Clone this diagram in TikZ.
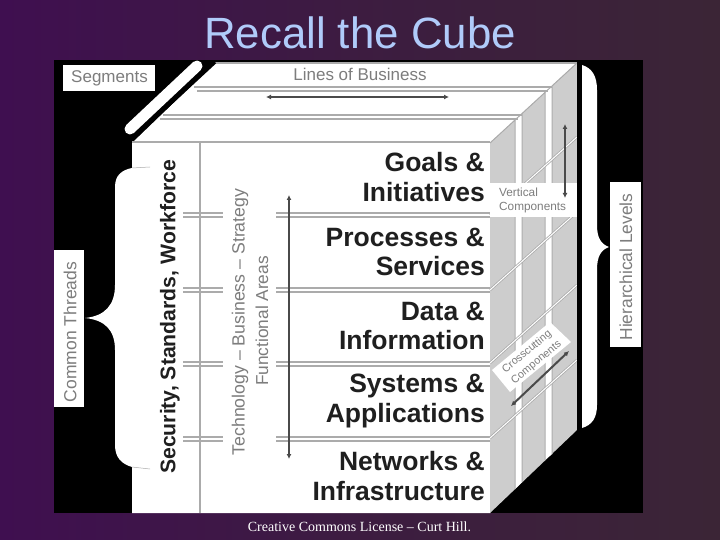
\documentclass[tikz,border=0pt]{standalone}
\usepackage{fontspec}
\setmainfont{Liberation Sans}
\newfontfamily\serifft{Liberation Serif}
\usetikzlibrary{arrows.meta}
\definecolor{bgl}{HTML}{3F0F50}
\definecolor{bgr}{HTML}{3B2536}
\definecolor{titleblue}{HTML}{B0CBFA}
\definecolor{sidegray}{HTML}{CDCDCD}
\definecolor{linegray}{HTML}{ABABAB}
\definecolor{txtgray}{HTML}{7D7D7D}
\definecolor{arrowgray}{HTML}{4A4A4A}
\tikzset{
  layer/.style={align=right,anchor=east,font=\bfseries\fontsize{26.5}{29.5}\selectfont,text=black!88,inner sep=0pt},
  graylabel/.style={text=txtgray,inner sep=0pt},
  doubleline/.style={draw=linegray,line width=1.4pt},
  diag/.style={draw=linegray,line width=2.6pt},
  diagin/.style={draw=white,line width=1pt},
  axis/.style={draw=arrowgray,line width=1.5pt,{Latex[length=5pt,width=5pt]}-{Latex[length=5pt,width=5pt]}},
}
\begin{document}
\begin{tikzpicture}[x=1pt,y=-1pt]
\useasboundingbox (0,0) rectangle (720,540);
\shade[left color=bgl,right color=bgr,middle color=bgr!60!bgl] (0,0) rectangle (720,540);
\fill[black] (54,60) rectangle (643,513);
% cube faces
\fill[white] (132,143) -- (215,63) -- (577,63) -- (490,143) -- (490,513) -- (132,513) -- cycle;
\fill[sidegray] (490,143) -- (577,63) -- (577,430) -- (490,513) -- cycle;
\fill[white] (515,120) -- (522,114) -- (522,482) -- (515,489) -- cycle;
\fill[white] (545,92) -- (552,86) -- (552,454) -- (545,460) -- cycle;
\draw[draw=linegray,line width=1pt] (490,143) -- (577,63) (515,120) -- (515,489) (522,114) -- (522,482) (545,92) -- (545,460) (552,86) -- (552,454);
\draw[draw=linegray,line width=1.5pt] (215,63) -- (577,63);
% top face lines
\draw[doubleline] (194,87) -- (552,87) (197,91) -- (548,91) (163,115) -- (522,115) (160,119) -- (518,119);
\draw[draw=linegray,line width=2pt] (132,142) -- (490,142);
\draw[draw=linegray,line width=1.5pt] (200,143) -- (200,513);
% segment band
\draw[black,line width=3.5pt] (134,137) -- (215,62);
\draw[white,line width=11pt,line cap=round] (130,129) -- (197,66);
% layer separators
\foreach \y in {213,288,362,437}{
  \draw[doubleline] (183,\y) -- (223,\y) (183,\y+4) -- (223,\y+4) (276,\y) -- (490,\y) (276,\y+4) -- (490,\y+4);
}
% side diagonals
\foreach \y in {215,290,363,438}{
  \draw[diag] (490,\y) -- (577,\y-78);
  \draw[diagin] (490,\y) -- (577,\y-78);
}
% left brace
\fill[white] (132,168) .. controls (122,170) and (115,175) .. (115,187) -- (115,285) .. controls (115,305) and (105,316) .. (85,318) .. controls (105,320) and (115,330) .. (115,350) -- (115,445) .. controls (115,458) and (122,464) .. (132,467) -- (140,467) -- (140,168) -- cycle;
\draw[draw=linegray,line width=.5pt] (132,168) -- (150,167) (132,467) -- (150,469);
% right brace
\fill[black] (577,60) rectangle (582,431);
\fill[white] (582,65) .. controls (592,68) and (597,76) .. (597,90) -- (597,225) .. controls (597,238) and (601,244) .. (609,247) .. controls (601,250) and (597,256) .. (597,270) -- (597,405) .. controls (597,418) and (592,425) .. (582,428) -- cycle;
% labels
\node[fill=white,minimum width=92pt,minimum height=26pt,inner sep=0pt] (segbox) at (109,78) {};
\node[graylabel,font=\fontsize{17}{19}\selectfont] (seg) at (109.5,78) {Segments};
\node[graylabel,font=\fontsize{17}{19}\selectfont] (lob) at (360,74) {Lines of Business};
\node[fill=white,minimum width=30pt,minimum height=157pt,inner sep=0pt] (ctbox) at (69,328.5) {};
\node[graylabel,rotate=90,font=\fontsize{17.5}{19}\selectfont] (ct) at (70,332) {Common Threads};
\node[fill=white,minimum width=31pt,minimum height=165pt,inner sep=0pt] (hlbox) at (625.5,264.5) {};
\node[graylabel,rotate=90,font=\fontsize{17.4}{19}\selectfont] (hl) at (626,267) {Hierarchical Levels};
\node[inner sep=0pt,rotate=90,text=black!88,font=\bfseries\fontsize{21.2}{23}\selectfont] (ssw) at (170,317) {Security, Standards, Workforce};
\node[graylabel,rotate=90,font=\fontsize{17.7}{19}\selectfont] (tbs) at (240,322) {Technology – Business – Strategy};
\node[graylabel,rotate=90,font=\fontsize{17.3}{19}\selectfont] (fa) at (262,321) {Functional Areas};
\node[layer] (l1) at (485,177) {Goals \&\\Initiatives};
\node[layer] (l2) at (485,252) {Processes \&\\Services};
\node[layer] (l3) at (485,326) {Data \&\\Information};
\node[layer] (l4) at (485,401) {Systems \&\\Applications};
\node[layer] (l5) at (485,476) {Networks \&\\Infrastructure};
% vertical components
\node[fill=white,minimum width=87pt,minimum height=34pt,inner sep=0pt] (vcbox) at (533.5,200) {};
\node[graylabel,align=left,anchor=west,font=\fontsize{11.8}{14}\selectfont] (vc) at (499,200) {Vertical\\Components};
% crosscutting components
\fill[white] (550,322) -- (571,342) -- (510,392) -- (492,370) -- cycle;
\node[graylabel,rotate=39.5,font=\fontsize{10.8}{13}\selectfont] (cc1) at (527,352) {Crosscutting};
\node[graylabel,rotate=39.5,font=\fontsize{10.8}{13}\selectfont] (cc2) at (536.5,362.5) {Components};
% arrows
\coordinate (ha) at (266,97); \coordinate (hb) at (449,97);
\coordinate (va) at (289,195); \coordinate (vb) at (289,459);
\coordinate (sa) at (565,124); \coordinate (sb) at (565,198);
\coordinate (da) at (569,351); \coordinate (db) at (511,406);
\draw[axis] (ha) -- (hb);
\draw[axis] (va) -- (vb);
\draw[axis,line width=2pt] (sa) -- (sb);
\draw[axis,line width=2pt] (da) -- (db);
% title and footer
\node[text=titleblue,font=\fontsize{43.8}{48}\selectfont,inner sep=0pt] (title) at (360,33) {Recall the Cube};
\node[text=white,font=\serifft\fontsize{14}{16}\selectfont,inner sep=0pt] (foot) at (359.5,527) {Creative Commons License – Curt Hill.};
\end{tikzpicture}
\end{document}
